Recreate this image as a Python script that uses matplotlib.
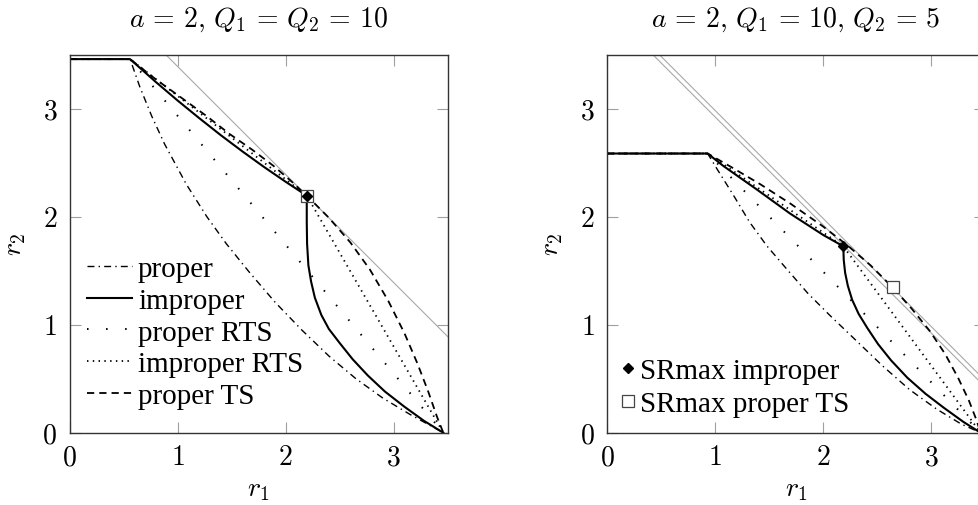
import matplotlib.pyplot as plt
from matplotlib.lines import Line2D

plt.rcParams['mathtext.fontset'] = 'cm'
plt.rcParams['font.family'] = ['Liberation Serif', 'DejaVu Serif']

titles = [r'$a\,=\,2,\,Q_1\,=\,Q_2\,=\,10$', r'$a\,=\,2,\,Q_1\,=\,10,\,Q_2\,=\,5$']
ticks = [0, 1, 2, 3]

# ---- left panel: a=2, Q1=Q2=10 ----
L_proper_r1 = [0, 0.559, 0.65, 0.76, 0.88, 1.08, 1.27, 1.45, 1.66, 1.90, 2.15, 2.40, 2.65, 2.90, 3.15, 3.35, 3.459]
L_proper_r2 = [3.459, 3.459, 3.20, 2.93, 2.67, 2.30, 2.00, 1.75, 1.49, 1.21, 0.95, 0.71, 0.50, 0.32, 0.17, 0.06, 0]

L_improper_r1 = [0, 0.559, 0.80, 1.00, 1.20, 1.40, 1.60, 1.80, 2.00, 2.195, 2.195, 2.198, 2.21, 2.235, 2.27,
                 2.33, 2.40, 2.50, 2.62, 2.76, 2.92, 3.10, 3.28, 3.459]
L_improper_r2 = [3.459, 3.459, 3.245, 3.075, 2.912, 2.754, 2.604, 2.46, 2.323, 2.195, 1.95, 1.75, 1.55, 1.40, 1.25,
                 1.09, 0.96, 0.83, 0.68, 0.53, 0.38, 0.24, 0.11, 0]

L_pRTS_r1 = [0, 0.559, 3.459]
L_pRTS_r2 = [3.459, 3.459, 0]

L_iRTS_r1 = [0, 0.559, 2.195, 3.459]
L_iRTS_r2 = [3.459, 3.459, 2.195, 0]

L_pTS_r1 = [0, 0.559, 0.80, 1.05, 1.27, 1.48, 1.69, 1.885, 2.05, 2.195, 2.40, 2.60, 2.78, 2.95, 3.10, 3.22, 3.32, 3.40, 3.459]
L_pTS_r2 = [3.459, 3.459, 3.27, 3.09, 2.93, 2.766, 2.62, 2.472, 2.33, 2.195, 1.99, 1.76, 1.51, 1.22, 0.92, 0.64, 0.38, 0.15, 0]

L_sr_improper = (2.195, 2.195)
L_sr_pTS = (2.195, 2.195)
L_sumrates = [4.39]

# ---- right panel: a=2, Q1=10, Q2=5 ----
R_proper_r1 = [0, 0.932, 1.02, 1.17, 1.32, 1.48, 1.66, 1.86, 2.07, 2.30, 2.55, 2.80, 3.05, 3.28, 3.459]
R_proper_r2 = [2.585, 2.585, 2.44, 2.20, 1.95, 1.73, 1.52, 1.29, 1.08, 0.86, 0.62, 0.40, 0.22, 0.08, 0]

R_improper_r1 = [0, 0.932, 1.077, 1.39, 1.694, 2.003, 2.188, 2.192, 2.205, 2.23, 2.27, 2.33, 2.41, 2.51, 2.63,
                 2.78, 2.95, 3.12, 3.30, 3.459]
R_improper_r2 = [2.585, 2.585, 2.47, 2.25, 2.03, 1.83, 1.726, 1.60, 1.48, 1.36, 1.23, 1.10, 0.97, 0.82, 0.67,
                 0.51, 0.36, 0.23, 0.10, 0]

R_pRTS_r1 = [0, 0.932, 3.459]
R_pRTS_r2 = [2.585, 2.585, 0]

R_iRTS_r1 = [0, 0.932, 2.188, 3.459]
R_iRTS_r2 = [2.585, 2.585, 1.726, 0]

R_pTS_r1 = [0, 0.932, 1.15, 1.42, 1.70, 2.00, 2.22, 2.44, 2.645, 2.82, 2.99, 3.13, 3.25, 3.35, 3.42, 3.459]
R_pTS_r2 = [2.585, 2.585, 2.46, 2.30, 2.12, 1.91, 1.74, 1.55, 1.345, 1.15, 0.94, 0.73, 0.51, 0.30, 0.12, 0]

R_sr_improper = (2.188, 1.726)
R_sr_pTS = (2.645, 1.345)
R_sumrates = [3.925, 3.985]

# line styles
st_proper = dict(color='black', lw=1.0, ls=(0, (5, 3, 1, 3)))
st_improper = dict(color='black', lw=1.5, ls='-')
st_pRTS = dict(color='black', lw=1.4, ls=(0, (0.8, 9)))
st_iRTS = dict(color='black', lw=1.3, ls=(0, (0.8, 2.4)))
st_pTS = dict(color='black', lw=1.3, ls=(0, (4, 2.8)))
mk_improper = dict(marker='D', color='black', ms=5.5, ls='none')
mk_pTS = dict(marker='s', mfc='white', mec='#444444', mew=0.9, ms=8.5, ls='none')

fig = plt.figure(figsize=(9.79, 5.06), dpi=100)
ax1 = fig.add_axes([69.7 / 979, 72.3 / 506, 378 / 979, 378 / 506])
ax2 = fig.add_axes([607 / 979, 72.3 / 506, 378 / 979, 378 / 506])

panels = [
    (ax1, L_proper_r1, L_proper_r2, L_improper_r1, L_improper_r2, L_pRTS_r1, L_pRTS_r2,
     L_iRTS_r1, L_iRTS_r2, L_pTS_r1, L_pTS_r2, L_sr_improper, L_sr_pTS, L_sumrates),
    (ax2, R_proper_r1, R_proper_r2, R_improper_r1, R_improper_r2, R_pRTS_r1, R_pRTS_r2,
     R_iRTS_r1, R_iRTS_r2, R_pTS_r1, R_pTS_r2, R_sr_improper, R_sr_pTS, R_sumrates),
]

for i, p in enumerate(panels):
    ax, pr1, pr2, ir1, ir2, prts1, prts2, irts1, irts2, pts1, pts2, srI, srP, sums = p
    for s in sums:
        ax.axline((0, s), slope=-1, color='#a8a8a8', lw=0.8, zorder=1)
    ax.plot(pr1, pr2, **st_proper)
    ax.plot(ir1, ir2, **st_improper)
    ax.plot(prts1, prts2, **st_pRTS)
    ax.plot(irts1, irts2, **st_iRTS)
    ax.plot(pts1, pts2, **st_pTS)
    ax.plot(srP[0], srP[1], zorder=5, **mk_pTS)
    ax.plot(srI[0], srI[1], zorder=6, **mk_improper)

    ax.set_xlim(0, 3.5)
    ax.set_ylim(0, 3.5)
    ax.set_xticks(ticks, labels=[f'${t}$' for t in ticks])
    ax.set_yticks(ticks, labels=[f'${t}$' for t in ticks])
    ax.tick_params(direction='in', length=8, width=0.8, color='#a0a0a0', labelsize=20,
                   top=True, right=True, pad=9)
    for sp in ax.spines.values():
        sp.set_color('#333333')
        sp.set_linewidth(1.0)
    ax.set_xlabel(r'$r_1$', fontsize=20)
    ax.set_ylabel(r'$r_2$', fontsize=20)
    ax.xaxis.set_label_coords(0.5, -0.118)
    ax.yaxis.set_label_coords(-0.11, 0.5)
    ax.set_title(titles[i], fontsize=20, y=1.072, va='center')

# legend with line styles (left)
h1 = [Line2D([], [], **st_proper), Line2D([], [], **st_improper), Line2D([], [], **st_pRTS),
      Line2D([], [], **st_iRTS), Line2D([], [], **st_pTS)]
ax1.legend(h1, ['proper', 'improper', 'proper RTS', 'improper RTS', 'proper TS'],
           loc='lower left', bbox_to_anchor=(0.045, 0.063), frameon=False, fontsize=21,
           handlelength=1.54, handletextpad=0.22, labelspacing=0.18, borderpad=0, borderaxespad=0)

# legend with markers (right)
h2 = [Line2D([], [], **mk_improper), Line2D([], [], **mk_pTS)]
ax2.legend(h2, ['SRmax improper', 'SRmax proper TS'], loc='lower left', bbox_to_anchor=(0.036, 0.042),
           frameon=False, fontsize=21, handlelength=0.5, handletextpad=0.16, labelspacing=0.22,
           borderpad=0, borderaxespad=0, numpoints=1)

plt.savefig('out.png', dpi=100)
